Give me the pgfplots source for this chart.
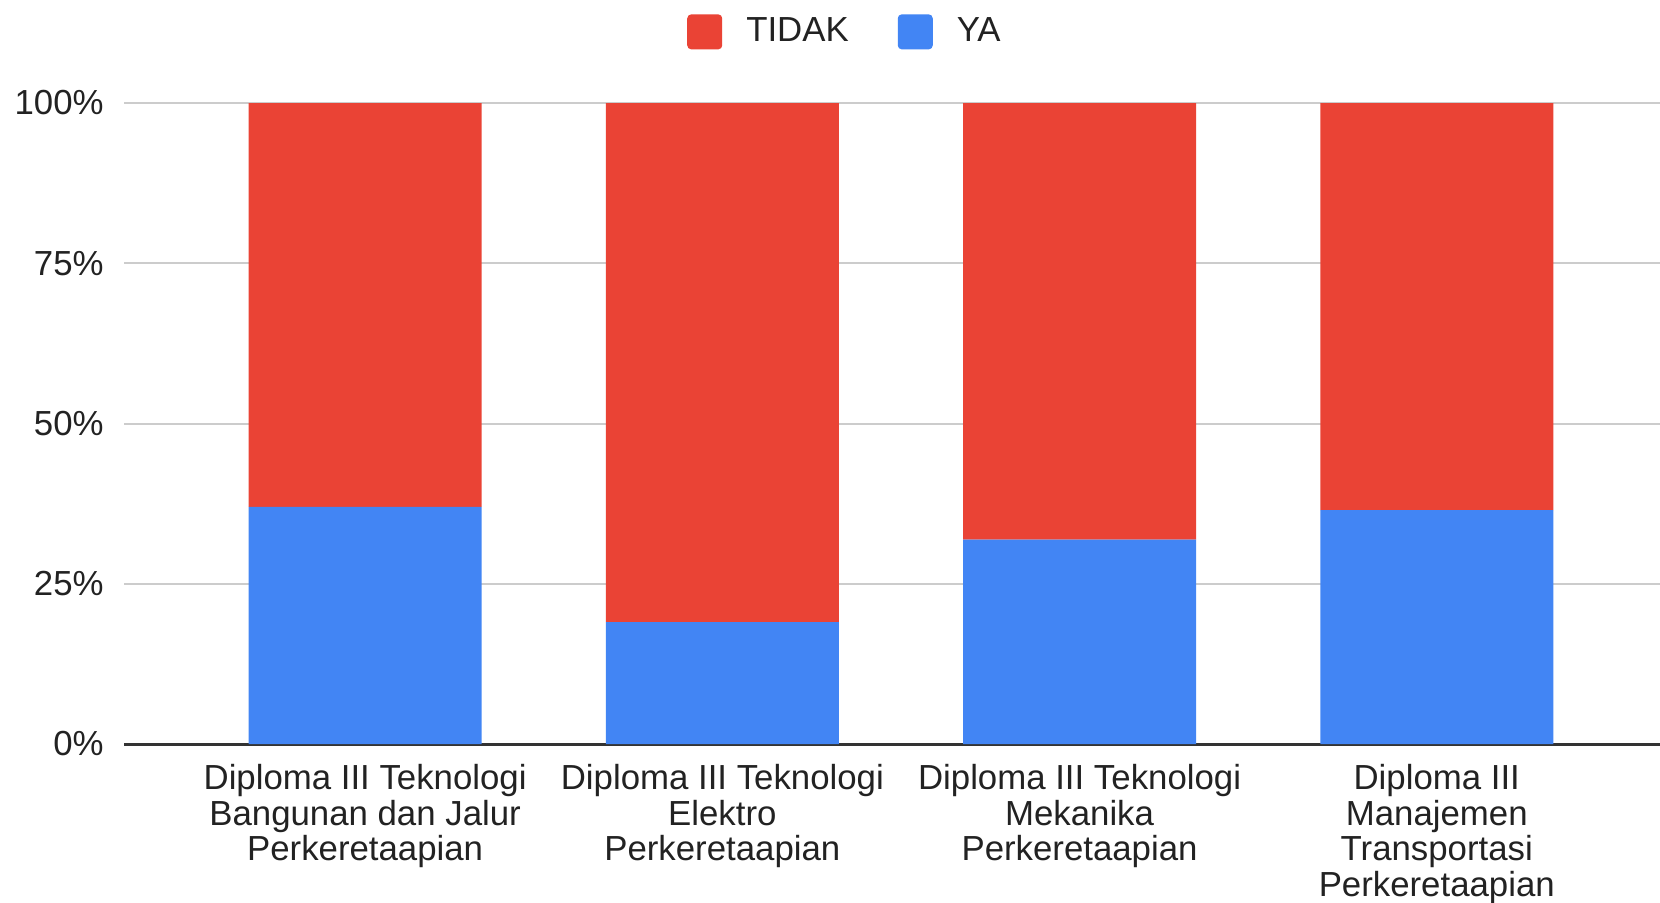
\documentclass[border=0pt]{standalone}
\usepackage{fontspec}
\setmainfont{Liberation Sans}
\usepackage{pgfplots}
\pgfplotsset{compat=1.18}
\definecolor{tred}{HTML}{EA4335}
\definecolor{tblue}{HTML}{4285F4}
\definecolor{gridc}{HTML}{CCCCCC}
\definecolor{basec}{HTML}{333333}
\definecolor{txt}{HTML}{222222}
\begin{document}
\begin{tikzpicture}
\begin{axis}[
    at={(1.24cm,1.58cm)}, anchor=south west,
    scale only axis,
    width=15.36cm, height=6.41cm,
    ybar stacked,
    bar width=2.33cm,
    xmin=-0.675, xmax=3.625,
    ymin=0, ymax=100,
    axis line style={draw=none},
    major tick length=0pt,
    xtick={0,1,2,3},
    xticklabels={{Diploma III Teknologi\\Bangunan dan Jalur\\Perkeretaapian},
                 {Diploma III Teknologi\\Elektro\\Perkeretaapian},
                 {Diploma III Teknologi\\Mekanika\\Perkeretaapian},
                 {Diploma III\\Manajemen\\Transportasi\\Perkeretaapian}},
    xticklabel style={align=center, text=txt, font=\fontsize{9.9}{10.1}\selectfont, yshift=-0.08cm},
    ytick={25,50,75,100},
    extra y ticks={0},
    extra y tick style={grid style={color=basec, line width=0.03cm}},
    yticklabel={\pgfmathprintnumber{\tick}\%},
    yticklabel style={text=txt, font=\fontsize{9.9}{10.1}\selectfont, xshift=-0.08cm},
    /pgf/number format/assume math mode=true,
    ymajorgrids,
    grid style={color=gridc, line width=0.02cm},
    legend columns=-1,
    legend style={at={(0.471,1.111)}, anchor=center, draw=none, inner sep=0pt,
        font=\fontsize{9.9}{10.1}\selectfont, text=txt,
        /tikz/every odd column/.append style={column sep=0.17cm},
        /tikz/every even column/.append style={column sep=0.42cm}},
    legend image code/.code={\fill[#1, rounded corners=0.04cm] (0cm,-0.175cm) rectangle (0.35cm,0.175cm);},
]
\addlegendimage{fill=tred, draw=none}
\addlegendentry{TIDAK}
\addlegendimage{fill=tblue, draw=none}
\addlegendentry{YA}
\addplot[fill=tblue, draw=none, forget plot] coordinates {(0,37.0) (1,19.0) (2,31.9) (3,36.5)};
\addplot[fill=tred, draw=none, forget plot] coordinates {(0,63.0) (1,81.0) (2,68.1) (3,63.5)};
\end{axis}
\pgfresetboundingbox
\useasboundingbox (0,0) rectangle (16.6cm,9.02cm);
\end{tikzpicture}
\end{document}
